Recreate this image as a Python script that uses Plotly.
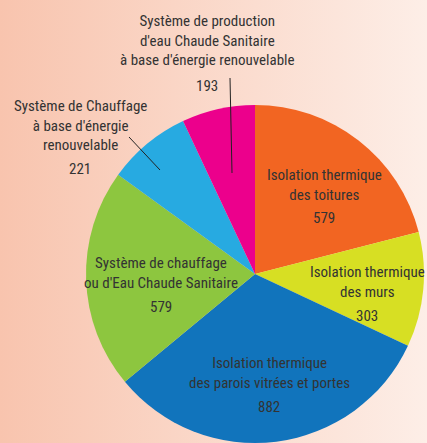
import plotly.graph_objects as go

W, H = 427, 443

labels = [
    "Isolation thermique<br>des toitures",
    "Isolation thermique<br>des murs",
    "Isolation thermique<br>des parois vitrées et portes",
    "Système de chauffage<br>ou d'Eau Chaude Sanitaire",
    "Système de Chauffage<br>à base d'énergie<br>renouvelable",
    "Système de production<br>d'eau Chaude Sanitaire<br>à base d'énergie renouvelable",
]
values = [579, 303, 882, 579, 221, 193]
colors = ["#F26522", "#D7DF23", "#1174BC", "#8DC63F", "#27AAE1", "#EC008C"]

# label placement in pixels: (x centre, y of first line, y of value)
label_pos = [
    (324, 174, 218),
    (367, 271, 316),
    (269, 362, 407),
    (161, 262, 307),
    (80, 104, 169),
    (207, 20, 86),
]
# leader lines for the two small slices (pixels)
leaders = [
    None, None, None, None,
    ((129, 137), (160, 170)),
    ((230, 78), (232, 173)),
]

FONT = "Roboto Condensed, Liberation Sans Narrow, DejaVu Sans Condensed, sans-serif"
TXT = "#333333"
FS = 15


def px(x, y):
    return x / W, 1 - y / H


fig = go.Figure()

# background gradient
fig.add_trace(go.Scatter(
    x=[0, 1, 1, 0, 0], y=[0, 0, 1, 1, 0],
    mode="lines", line=dict(width=0),
    fill="toself",
    fillgradient=dict(type="horizontal",
                      colorscale=[[0, "#F8C4AE"], [1, "#FDEEE7"]]),
    hoverinfo="skip", showlegend=False,
))

cx, cy, r = 255, 274, 169
fig.add_trace(go.Pie(
    labels=[l.replace("<br>", " ") for l in labels],
    values=values,
    marker=dict(colors=colors, line=dict(width=0)),
    sort=False,
    direction="clockwise",
    rotation=0,
    textinfo="none",
    showlegend=False,
    domain=dict(x=[(cx - r) / W, (cx + r) / W], y=[0, 1 - (cy - r) / H]),
))

for lab, val, (x, y1, yv), ld in zip(labels, values, label_pos, leaders):
    n = lab.count("<br>")
    ax, ay = px(x, y1 + n * 10.5)
    fig.add_annotation(x=ax, y=ay, xref="paper", yref="paper",
                       text=lab, showarrow=False, xanchor="center", yanchor="middle",
                       font=dict(family=FONT, size=FS, color=TXT))
    bx, by = px(x, yv)
    fig.add_annotation(x=bx, y=by, xref="paper", yref="paper",
                       text=str(val), showarrow=False, xanchor="center", yanchor="middle",
                       font=dict(family=FONT, size=FS, color=TXT))
    if ld:
        (x0, y0), (x1, y1_) = ld
        p0 = px(x0, y0)
        p1 = px(x1, y1_)
        fig.add_shape(type="line", xref="paper", yref="paper",
                      x0=p0[0], y0=p0[1], x1=p1[0], y1=p1[1],
                      line=dict(color="#222222", width=1))

fig.update_layout(
    width=W, height=H,
    margin=dict(l=0, r=0, t=0, b=0),
    paper_bgcolor="#FBDCCF",
    plot_bgcolor="rgba(0,0,0,0)",
    xaxis=dict(range=[0, 1], visible=False, domain=[0, 1], fixedrange=True),
    yaxis=dict(range=[0, 1], visible=False, domain=[0, 1], fixedrange=True),
)

fig.write_html("out.html", config={"displayModeBar": False},
               post_script="document.body.style.margin='0';document.body.style.overflow='hidden';")
